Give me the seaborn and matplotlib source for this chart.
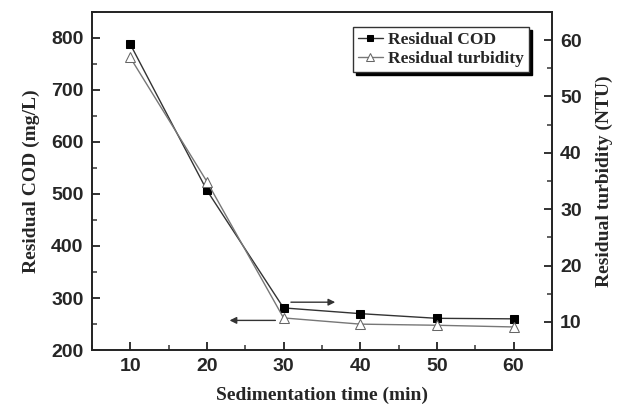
import numpy as np
import pandas as pd
import matplotlib
matplotlib.use("Agg")
from matplotlib import pyplot as plt
from matplotlib.ticker import MultipleLocator
import seaborn as sns

time_min = [10, 20, 30, 40, 50, 60]
cod = [788, 507, 281, 270, 261, 260]
turbidity = [56.9, 34.9, 10.7, 9.6, 9.4, 9.1]

df = pd.DataFrame({'time': time_min, 'cod': cod, 'turb': turbidity})

sns.set_style("ticks")
plt.rcParams['font.family'] = ['Liberation Sans', 'DejaVu Sans']

fig = plt.figure(figsize=(6.25, 4.08), dpi=100)
ax = fig.add_axes([0.147, 0.142, 0.736, 0.829])
ax2 = ax.twinx()

sns.lineplot(data=df, x='time', y='cod', ax=ax, color='#333333', lw=1.0,
             marker='s', markersize=6, markerfacecolor='black', markeredgecolor='black',
             label='Residual COD', legend=False)
sns.lineplot(data=df, x='time', y='turb', ax=ax2, color='#777777', lw=1.0,
             marker='^', markersize=7.5, markerfacecolor='white', markeredgecolor='#666666',
             label='Residual turbidity', legend=False)

ax.set_xlim(5, 65)
ax.set_ylim(200, 850)
ax2.set_ylim(5, 65)
ax.xaxis.set_major_locator(MultipleLocator(10))
ax.xaxis.set_minor_locator(MultipleLocator(5))
ax.yaxis.set_major_locator(MultipleLocator(100))
ax.yaxis.set_minor_locator(MultipleLocator(50))
ax2.yaxis.set_major_locator(MultipleLocator(10))
ax2.yaxis.set_minor_locator(MultipleLocator(5))

for a in (ax, ax2):
    for s in a.spines.values():
        s.set_visible(True)
        s.set_linewidth(1.2)
        s.set_color('#222222')
    a.tick_params(which='major', length=6, width=1.3, labelsize=14, pad=6,
                  direction='in', color='#222222')
    a.tick_params(which='minor', length=3.5, width=1.2, direction='in', color='#444444')
    for lab in a.get_xticklabels() + a.get_yticklabels():
        lab.set_fontweight('bold')
ax.tick_params(axis='x', which='both', bottom=True, top=False)
ax.tick_params(axis='y', which='both', left=True, right=False)
ax2.tick_params(axis='y', which='both', right=True, left=False)

serif = {'family': 'Liberation Serif', 'weight': 'bold', 'size': 14}
ax.set_xlabel('Sedimentation time (min)', fontdict=serif, labelpad=8)
ax.set_ylabel('Residual COD (mg/L)', fontdict=serif, labelpad=8)
ax2.set_ylabel('Residual turbidity (NTU)', fontdict=serif, labelpad=10)

# arrows pointing to the axis each series belongs to
ax.annotate('', xy=(37.1, 292), xytext=(30.6, 292),
            arrowprops=dict(arrowstyle='-|>', color='#333333', lw=1, mutation_scale=10))
ax.annotate('', xy=(22.6, 257), xytext=(29.3, 257),
            arrowprops=dict(arrowstyle='-|>', color='#333333', lw=1, mutation_scale=10))

h1, l1 = ax.get_legend_handles_labels()
h2, l2 = ax2.get_legend_handles_labels()
leg = ax2.legend(h1 + h2, l1 + l2, loc='upper right', bbox_to_anchor=(0.95, 0.955),
                 borderaxespad=0,
                 prop={'family': 'Liberation Serif', 'weight': 'bold', 'size': 12.5},
                 frameon=True, fancybox=False, shadow={'color': 'black', 'alpha': 1},
                 handlelength=1.4, handletextpad=0.3, borderpad=0.3, labelspacing=0.15,
                 markerscale=0.75)
leg.get_frame().set_edgecolor('#333333')
leg.get_frame().set_linewidth(1)

fig.savefig('out.png', dpi=100)
